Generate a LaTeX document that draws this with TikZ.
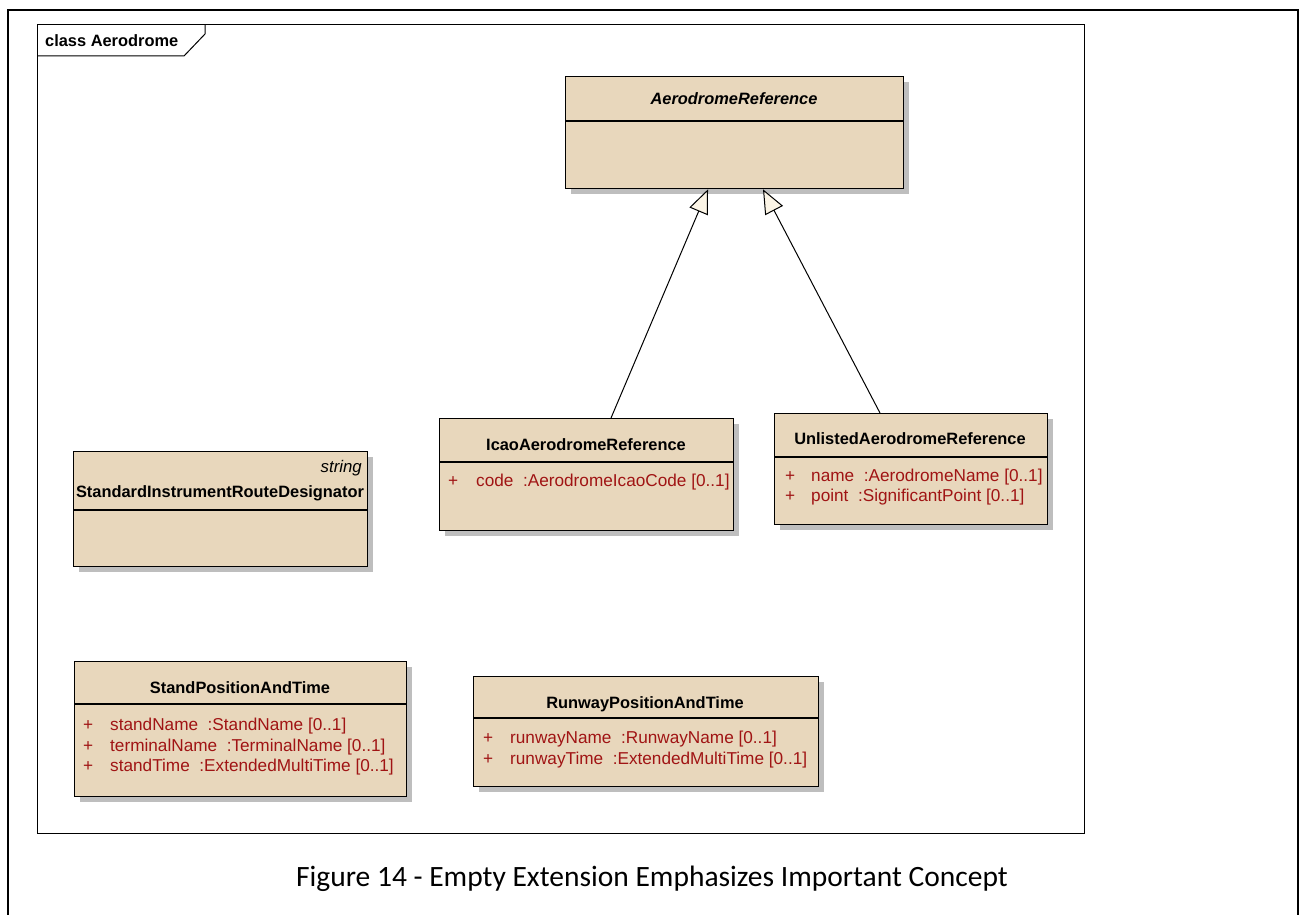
\documentclass[tikz,border=0pt]{standalone}
\usepackage{fontspec}
\setmainfont{Liberation Sans}
\newfontfamily\capfont{Carlito}
\usetikzlibrary{arrows.meta,shadows}

\definecolor{boxfill}{RGB}{232,215,188}
\definecolor{attrred}{RGB}{160,20,20}
\definecolor{genfill}{RGB}{252,245,230}
\definecolor{shadowgray}{RGB}{190,190,190}

\begin{document}
\begin{tikzpicture}[x=1pt,y=-1pt,
  umlbox/.style={draw=black, line width=1.3pt, fill=boxfill, inner sep=0pt,
    anchor=north west,
    drop shadow={shadow xshift=5pt, shadow yshift=-5pt, fill=shadowgray, opacity=1}},
  divider/.style={line width=1.3pt},
  title/.style={font=\fontsize{16.4}{19}\selectfont\bfseries, inner sep=0pt, anchor=base},
  stereo/.style={font=\fontsize{16.8}{19}\selectfont\itshape, inner sep=0pt, anchor=base east},
  attr/.style={font=\fontsize{17.2}{20}\selectfont, text=attrred, inner sep=0pt, anchor=base west},
  gen/.style={line width=1pt, -{Triangle[length=24pt,width=20pt,fill=genfill]}}]

\useasboundingbox (0,0) rectangle (1306,915);
\fill[white] (0,0) rectangle (1306,915);

% outer page frame (open at the bottom)
\draw[line width=2pt] (8,925) -- (8,10) -- (1298,10) -- (1298,925);

% diagram frame with its name tab
\draw[line width=1pt] (37,25) rectangle (1084,833);
\draw[line width=1pt] (37,56) -- (184,56) -- (205,34) -- (205,25);
\node[font=\fontsize{16.4}{19}\selectfont\bfseries, inner sep=0pt, anchor=base west] (frametitle) at (45,47) {class Aerodrome};

% AerodromeReference (abstract)
\node[umlbox, minimum width=338pt, minimum height=112pt] (aero) at (565,76) {};
\draw[divider] ([yshift=-45pt]aero.north west) -- ([yshift=-45pt]aero.north east);
\node[title, font=\fontsize{16.4}{19}\selectfont\bfseries\itshape] (aerot) at (734,105) {AerodromeReference};

% IcaoAerodromeReference
\node[umlbox, minimum width=294pt, minimum height=112pt] (icao) at (439,418) {};
\draw[divider] ([yshift=-44pt]icao.north west) -- ([yshift=-44pt]icao.north east);
\node[title] (icaot) at (586,450) {IcaoAerodromeReference};
\node[attr] (icaop1) at (448,486) {+};
\node[attr] (icaoa1) at (476,486) {code\ \ :AerodromeIcaoCode [0..1]};

% UnlistedAerodromeReference
\node[umlbox, minimum width=273pt, minimum height=111pt] (unl) at (774,413) {};
\draw[divider] ([yshift=-44pt]unl.north west) -- ([yshift=-44pt]unl.north east);
\node[title] (unlt) at (910,444) {UnlistedAerodromeReference};
\node[attr] (unlp1) at (785,481) {+};
\node[attr] (unla1) at (811,481) {name\ \ :AerodromeName [0..1]};
\node[attr] (unlp2) at (785,501) {+};
\node[attr] (unla2) at (811,501) {point\ \ :SignificantPoint [0..1]};

% StandardInstrumentRouteDesignator
\node[umlbox, minimum width=294pt, minimum height=115pt] (sird) at (73,451) {};
\draw[divider] ([yshift=-59pt]sird.north west) -- ([yshift=-59pt]sird.north east);
\node[stereo] (sirds) at (362,472) {string};
\node[title] (sirdt) at (220,497) {StandardInstrumentRouteDesignator};

% StandPositionAndTime
\node[umlbox, minimum width=332pt, minimum height=135pt] (stand) at (74,661) {};
\draw[divider] ([yshift=-43pt]stand.north west) -- ([yshift=-43pt]stand.north east);
\node[title] (standt) at (240,693) {StandPositionAndTime};
\node[attr] (standp1) at (83,730) {+};
\node[attr] (standa1) at (110,730) {standName\ \ :StandName [0..1]};
\node[attr] (standp2) at (83,751) {+};
\node[attr] (standa2) at (110,751) {terminalName\ \ :TerminalName [0..1]};
\node[attr] (standp3) at (83,771) {+};
\node[attr] (standa3) at (110,771) {standTime\ \ :ExtendedMultiTime [0..1]};

% RunwayPositionAndTime
\node[umlbox, minimum width=345pt, minimum height=110pt] (rwy) at (473,676) {};
\draw[divider] ([yshift=-42pt]rwy.north west) -- ([yshift=-42pt]rwy.north east);
\node[title] (rwyt) at (645,708) {RunwayPositionAndTime};
\node[attr] (rwyp1) at (483,743) {+};
\node[attr] (rwya1) at (510,743) {runwayName\ \ :RunwayName [0..1]};
\node[attr] (rwyp2) at (483,764) {+};
\node[attr] (rwya2) at (510,764) {runwayTime\ \ :ExtendedMultiTime [0..1]};

% generalizations
\draw[gen] ([xshift=172pt]icao.north west) -- ([xshift=143pt]aero.south west);
\draw[gen] ([xshift=106pt]unl.north west) -- ([xshift=198pt]aero.south west);

% caption
\node[font=\capfont\fontsize{29.5}{34}\selectfont, inner sep=0pt, anchor=base] (caption) at (652,886)
  {Figure 14 - Empty Extension Emphasizes Important Concept};
\end{tikzpicture}
\end{document}
